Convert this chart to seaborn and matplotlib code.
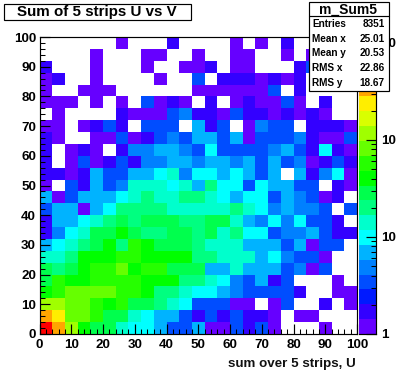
import numpy as np
import seaborn as sns
import matplotlib.pyplot as plt
from matplotlib.colors import ListedColormap, LogNorm
from matplotlib.patches import Rectangle
from matplotlib.ticker import NullFormatter

W, H = 396, 372

# bin contents (4 units wide), top row = V 96-100, 0 = empty bin
counts = [
    [0,0,0,0,0,0,1,0,0,0,2,0,0,0,0,1,0,1,0,2,0,0,0,0,0],
    [0,0,0,0,1,0,0,0,1,1,0,0,1,0,0,1,1,0,0,1,0,1,0,0,0],
    [2,0,0,0,1,0,0,0,1,0,0,1,1,2,0,1,1,0,0,0,2,3,0,0,0],
    [1,2,0,0,1,0,0,0,0,1,0,0,3,0,2,2,2,1,2,1,2,0,0,0,0],
    [1,0,0,1,1,1,0,0,0,0,0,0,1,1,1,1,1,1,3,0,2,0,0,0,0],
    [1,1,1,0,1,0,1,0,3,1,2,1,0,2,0,1,2,1,1,3,1,0,2,0,0],
    [0,1,0,0,0,0,2,1,1,1,3,5,2,2,1,3,2,2,1,2,1,2,1,0,0],
    [1,1,0,1,2,3,2,0,3,3,3,0,7,2,3,0,1,5,3,3,0,2,2,2,1],
    [2,1,0,0,1,1,3,1,2,3,5,3,7,7,3,7,1,3,3,3,5,2,1,1,3],
    [2,0,1,2,1,0,2,5,5,7,7,5,3,10,3,3,3,3,5,7,3,2,10,2,1],
    [2,0,1,3,1,2,3,2,5,5,7,7,5,7,7,5,7,3,7,3,5,1,2,3,2],
    [2,2,1,2,7,3,3,7,7,10,14,5,10,10,7,10,7,3,7,0,7,2,5,10,1],
    [1,0,3,2,7,3,5,14,14,14,10,14,7,20,10,10,3,10,7,7,3,3,0,2,1],
    [7,1,3,7,7,7,10,14,20,14,14,20,20,14,10,7,10,10,3,7,5,3,1,2,0],
    [3,7,7,1,7,10,20,20,20,20,14,14,14,14,14,20,14,10,5,7,5,5,3,0,3],
    [2,7,7,10,14,20,28,20,28,28,28,20,20,28,28,14,7,5,10,5,10,3,3,2,0],
    [2,5,10,14,28,28,40,28,20,20,28,28,20,28,14,20,10,10,3,5,5,7,3,2,2],
    [7,10,14,20,28,40,20,60,40,28,28,28,20,14,14,14,7,7,7,3,7,1,3,3,0],
    [14,14,20,40,40,40,60,60,40,40,40,40,20,20,14,14,14,7,10,5,3,3,1,0,0],
    [28,20,28,40,60,60,85,40,60,60,28,28,28,7,7,14,7,7,7,3,5,1,3,0,0],
    [28,60,40,40,60,60,60,60,40,40,40,20,20,14,10,5,3,7,2,3,0,0,0,1,0],
    [40,60,85,85,85,85,60,60,40,20,20,14,10,10,7,5,3,3,3,3,2,0,0,1,1],
    [120,120,85,85,60,40,60,28,28,20,14,10,3,3,3,1,1,0,1,3,0,0,2,0,1],
    [350,250,85,85,60,28,28,14,10,7,7,3,2,3,2,3,2,2,1,0,1,1,0,0,0],
    [1000,350,120,40,28,28,14,10,10,7,3,3,7,1,1,3,2,3,1,0,0,0,1,0,0],
]

palette = ['#6600ff', '#3300ff', '#001aff', '#004dff', '#0080ff', '#00b3ff', '#00ffff',
           '#00ffcc', '#00ff80', '#00ff4d', '#00ff00', '#26ff00', '#66ff00', '#a0ff00',
           '#d9ff00', '#ffee00', '#ffa500', '#ff6e00', '#ff3c00', '#ff0000']

axis_ticks = [0, 10, 20, 30, 40, 50, 60, 70, 80, 90, 100]
z_ticks = [1, 10, 100, 1000]
z_labels = ['1', '10', '10\u00b2', '10\u00b3']
z_max = 1148

title = 'Sum of 5 strips U vs V'
x_label = 'sum over 5 strips, U'
stats_name = 'm_Sum5'
stats_keys = ['Entries', 'Mean x', 'Mean y', 'RMS x', 'RMS y']
stats_vals = ['8351', '25.01', '20.53', '22.86', '18.67']

sns.set_style('ticks')
plt.rcParams['font.family'] = ['Liberation Sans', 'DejaVu Sans']
plt.rcParams['font.weight'] = 'bold'


def box(x0, y0, x1, y1):
    """pixel box (y from the top) -> figure fraction rect"""
    return [x0 / W, 1 - y1 / H, (x1 - x0) / W, (y1 - y0) / H]


fig = plt.figure(figsize=(W / 100, H / 100), dpi=100, facecolor='white')
ax = fig.add_axes(box(39.5, 37, 357, 334))
cax = fig.add_axes(box(358.5, 37, 376, 334))

data = np.array(counts)
sns.heatmap(data, mask=data == 0, cmap=ListedColormap(palette), norm=LogNorm(1, z_max),
            ax=ax, cbar_ax=cax, xticklabels=False, yticklabels=False)

# frame and ticks like ROOT: ticks inside on left and bottom only
for s in ax.spines.values():
    s.set_visible(True)
    s.set_linewidth(0.85)
    s.set_color('black')
ax.set_axisbelow(False)

ax.set_xticks([v / 4 for v in axis_ticks], axis_ticks)
ax.set_yticks([(100 - v) / 4 for v in axis_ticks], axis_ticks)
ax.set_xticks(np.arange(0, 25.1, 0.5), minor=True)
ax.set_yticks(np.arange(0, 25.1, 0.5), minor=True)
ax.tick_params(which='major', direction='in', length=7.2, width=0.85, labelsize=9.6, pad=2.5, colors='black')
ax.tick_params(which='minor', direction='in', length=3.6, width=0.75, colors='black')
ax.tick_params(axis='x', which='major', pad=3.5)

# colour bar axis
cax.set_yscale('log')
cax.set_ylim(1, z_max)
cax.set_axisbelow(False)
cax.yaxis.set_ticks_position('right')
cax.set_yticks(z_ticks, z_labels)
cax.set_yticks([m * d for d in (1, 10, 100) for m in range(2, 10)], minor=True)
cax.yaxis.set_minor_formatter(NullFormatter())
cax.tick_params(which='major', direction='in', length=7.2, width=0.85, labelsize=9.6, pad=3.5, colors='black')
cax.tick_params(which='minor', direction='in', length=3.6, width=0.75, colors='black')
for side in ['right', 'bottom']:
    cax.spines[side].set_visible(True)
    cax.spines[side].set_linewidth(0.85)
    cax.spines[side].set_color('black')

fig.text(356 / W, 1 - 364 / H, x_label, ha='right', va='center', fontsize=9.6, color='#111111')

# title box
x0, y0, w, h = box(3.5, 3.5, 191, 20)
fig.add_artist(Rectangle((x0, y0), w, h, transform=fig.transFigure, fc='white', ec='black', lw=0.85, zorder=5))
fig.text(96.5 / W, 1 - 12 / H, title, ha='center', va='center', fontsize=10.9, zorder=6, color='black')

# stats box, sits over the plot and the colour bar
x0, y0, w, h = box(308.5, 1.5, 388.5, 91)
fig.add_artist(Rectangle((x0, y0), w, h, transform=fig.transFigure, fc='white', ec='black', lw=0.85, zorder=5))
fig.add_artist(plt.Line2D([x0, x0 + w], [1 - 15.5 / H] * 2, transform=fig.transFigure, color='black', lw=0.85, zorder=6))
fig.text(348.5 / W, 1 - 9.5 / H, stats_name, ha='center', va='center', fontsize=10, zorder=6, color='black')
for i, (k, v) in enumerate(zip(stats_keys, stats_vals)):
    y = 1 - (24 + i * 14.75) / H
    fig.text(312 / W, y, k, ha='left', va='center', fontsize=7.2, zorder=6, color='black')
    fig.text(385 / W, y, v, ha='right', va='center', fontsize=7.2, zorder=6, color='black')

fig.savefig('out.png', dpi=100)
